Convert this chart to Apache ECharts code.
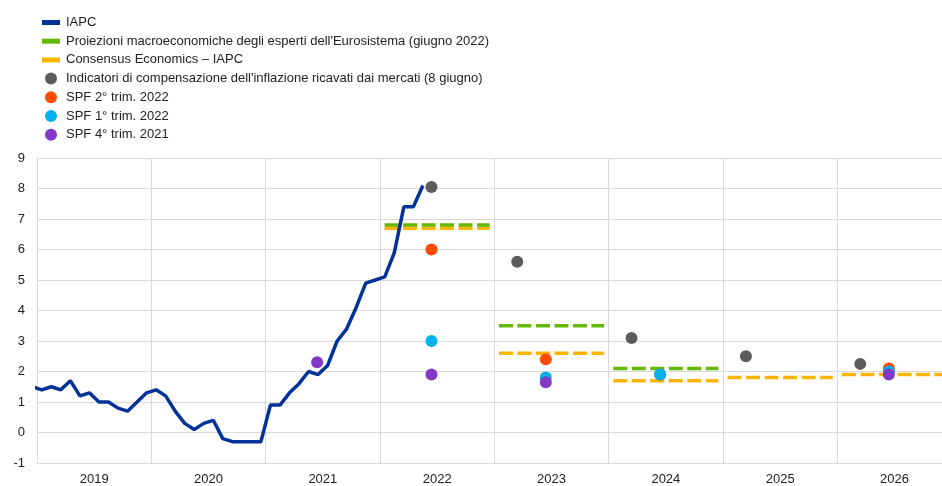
<!DOCTYPE html>
<html>
<head>
<meta charset="UTF-8">
<title>IAPC e aspettative di inflazione</title>
<script src="https://cdn.jsdelivr.net/npm/echarts@6/dist/echarts.min.js"></script>
<style>
	html, body { margin: 0; padding: 0; background: #fff; }
	#chart { width: 942px; height: 486px; }
</style>
</head>
<body>
<div id="chart"></div>
<script>
	// IAPC mensile, da dic. 2018 a mag. 2022 (variazioni % sui dodici mesi)
	var iapcStart = [2018, 12];
	var iapcValues = [1.5,
		1.4, 1.5, 1.4, 1.7, 1.2, 1.3, 1.0, 1.0, 0.8, 0.7, 1.0, 1.3,
		1.4, 1.2, 0.7, 0.3, 0.1, 0.3, 0.4, -0.2, -0.3, -0.3, -0.3, -0.3,
		0.9, 0.9, 1.3, 1.6, 2.0, 1.9, 2.2, 3.0, 3.4, 4.1, 4.9, 5.0,
		5.1, 5.9, 7.4, 7.4, 8.1];

	// proiezioni annuali
	var eurosistemaYears = [2022, 2023, 2024];
	var eurosistemaValues = [6.8, 3.5, 2.1];
	var consensusYears = [2022, 2023, 2024, 2025, 2026];
	var consensusValues = [6.7, 2.6, 1.7, 1.8, 1.9];

	// indicatori di mercato (8 giugno)
	var mercatiDates = [2022.45, 2023.2, 2024.2, 2025.2, 2026.2];
	var mercatiValues = [8.05, 5.6, 3.1, 2.5, 2.25];

	// SPF
	var spfQ2Dates = [2022.45, 2023.45, 2024.45, 2026.45];
	var spfQ2Values = [6.0, 2.4, 1.9, 2.1];
	var spfQ1Dates = [2022.45, 2023.45, 2024.45, 2026.45];
	var spfQ1Values = [3.0, 1.8, 1.9, 2.0];
	var spfQ4Dates = [2021.45, 2022.45, 2023.45, 2026.45];
	var spfQ4Values = [2.3, 1.9, 1.65, 1.9];

	var yearLabels = ['2019', '2020', '2021', '2022', '2023', '2024', '2025', '2026'];

	// metà mese come posizione sull'asse
	var iapcData = iapcValues.map(function (v, i) {
		var m = iapcStart[1] - 1 + i;
		return [iapcStart[0] + (m + 0.5) / 12, v];
	});

	// un tratto per anno, interrotto tra un anno e l'altro
	function yearSegments(years, values) {
		var d = [];
		years.forEach(function (y, i) {
			d.push([y + 0.04, values[i]], [y + 0.96, values[i]], [y + 0.98, '-']);
		});
		return d;
	}

	function pairs(xs, ys) {
		return xs.map(function (x, i) { return [x, ys[i]]; });
	}

	var lineIcon = 'path://M0,0H18V5H0Z';
	var dash = { type: [14, 4.5], width: 3.5 };

	var myChart = echarts.init(document.getElementById('chart'));

	var option = {
		animation: false,
		textStyle: { fontFamily: 'Liberation Sans, Arial, sans-serif' },
		legend: {
			orient: 'vertical',
			left: 42,
			top: 16,
			padding: 0,
			itemWidth: 18,
			itemHeight: 12,
			itemGap: 5.7,
			textStyle: { fontSize: 13, color: '#222', padding: [0, 0, 0, 1] },
			data: [
				{ name: 'IAPC', icon: lineIcon, itemStyle: { color: '#003299' } },
				{ name: 'Proiezioni macroeconomiche degli esperti dell\'Eurosistema (giugno 2022)', icon: lineIcon, itemStyle: { color: '#65b800' } },
				{ name: 'Consensus Economics – IAPC', icon: lineIcon, itemStyle: { color: '#ffb400' } },
				{ name: 'Indicatori di compensazione dell\'inflazione ricavati dai mercati (8 giugno)', icon: 'circle' },
				{ name: 'SPF 2° trim. 2022', icon: 'circle' },
				{ name: 'SPF 1° trim. 2022', icon: 'circle' },
				{ name: 'SPF 4° trim. 2021', icon: 'circle' }
			]
		},
		grid: { left: 37, right: 0, top: 158, bottom: 23 },
		xAxis: [{
			type: 'value',
			min: 2019,
			max: 2026.915,
			interval: 1,
			axisLine: { show: false },
			axisTick: { show: false },
			axisLabel: { show: false },
			splitLine: { show: true, lineStyle: { color: '#d9d9d9', width: 1 } }
		}, {
			type: 'value',
			position: 'bottom',
			min: 2019,
			max: 2026.915,
			interval: 0.5,
			axisLine: { show: true, lineStyle: { color: '#d9d9d9' } },
			axisTick: { show: false },
			splitLine: { show: false },
			axisLabel: {
				fontSize: 13,
				color: '#222',
				margin: 10,
				showMinLabel: false,
				showMaxLabel: false,
				formatter: function (v) {
					var i = Math.floor(v) - 2019;
					if (Math.abs(v - Math.floor(v) - 0.5) < 0.01 && yearLabels[i]) return yearLabels[i];
					return '';
				}
			}
		}],
		yAxis: {
			type: 'value',
			min: -1,
			max: 9,
			interval: 1,
			axisLine: { show: true, lineStyle: { color: '#d9d9d9' } },
			axisTick: { show: false },
			axisLabel: { fontSize: 13, color: '#222', margin: 12 },
			splitLine: { lineStyle: { color: '#d9d9d9', width: 1 } }
		},
		series: [{
			name: 'Consensus Economics – IAPC',
			type: 'line',
			z: 2,
			symbol: 'none',
			data: yearSegments(consensusYears, consensusValues),
			itemStyle: { color: '#ffb400' },
			lineStyle: { color: '#ffb400', type: dash.type, width: dash.width }
		}, {
			name: 'Proiezioni macroeconomiche degli esperti dell\'Eurosistema (giugno 2022)',
			type: 'line',
			z: 3,
			symbol: 'none',
			data: yearSegments(eurosistemaYears, eurosistemaValues),
			itemStyle: { color: '#65b800' },
			lineStyle: { color: '#65b800', type: dash.type, width: dash.width }
		}, {
			name: 'IAPC',
			type: 'line',
			z: 4,
			symbol: 'none',
			data: iapcData,
			itemStyle: { color: '#003299' },
			lineStyle: { color: '#003299', width: 3.5 }
		}, {
			name: 'Indicatori di compensazione dell\'inflazione ricavati dai mercati (8 giugno)',
			type: 'scatter',
			z: 5,
			symbolSize: 12,
			data: pairs(mercatiDates, mercatiValues),
			itemStyle: { color: '#5c5c5c', opacity: 1 }
		}, {
			name: 'SPF 2° trim. 2022',
			type: 'scatter',
			z: 6,
			symbolSize: 12,
			data: pairs(spfQ2Dates, spfQ2Values),
			itemStyle: { color: '#ff4b00', opacity: 1 }
		}, {
			name: 'SPF 1° trim. 2022',
			type: 'scatter',
			z: 7,
			symbolSize: 12,
			data: pairs(spfQ1Dates, spfQ1Values),
			itemStyle: { color: '#00b1ea', opacity: 1 }
		}, {
			name: 'SPF 4° trim. 2021',
			type: 'scatter',
			z: 8,
			symbolSize: 12,
			data: pairs(spfQ4Dates, spfQ4Values),
			itemStyle: { color: '#8139c6', opacity: 1 }
		}]
	};

	myChart.setOption(option);
</script>
</body>
</html>
